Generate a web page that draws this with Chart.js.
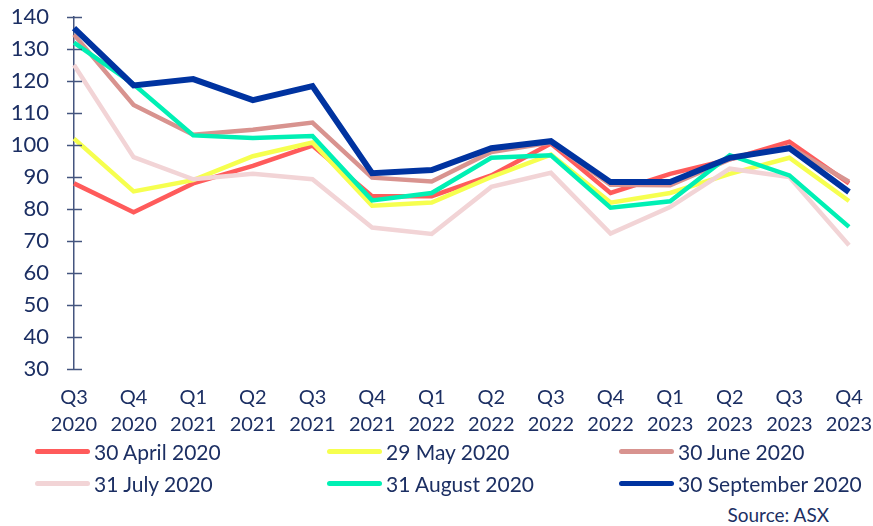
<!DOCTYPE html>
<html>
<head>
<meta charset="utf-8">
<script src="https://cdn.jsdelivr.net/npm/chart.js@4/dist/chart.umd.min.js"></script>
<style>
  html, body { margin: 0; padding: 0; background: #fff; }
  body { width: 873px; height: 526px; position: relative; overflow: hidden; font-family: Lato, "Open Sans", sans-serif; color: #1c2f63; }
  #wrap { position: absolute; left: 0; top: 0; width: 873px; height: 440px; }
  #legend { position: absolute; left: 35px; top: 437px; width: 838px; display: grid; grid-template-columns: 292px 292px 254px; row-gap: 4px; }
  .item { display: flex; align-items: center; height: 28px; font-size: 21px; white-space: nowrap; }
  .swatch { width: 55px; height: 5px; border-radius: 3px; margin-right: 4px; }
  #source { position: absolute; right: 44px; top: 503px; font-size: 19px; }
</style>
</head>
<body>
<div id="wrap"><canvas id="c"></canvas></div>
<div id="legend"></div>
<div id="source">Source: ASX</div>
<script>
// quarter labels (two lines each)
var quarters = ['Q3', 'Q4', 'Q1', 'Q2', 'Q3', 'Q4', 'Q1', 'Q2', 'Q3', 'Q4', 'Q1', 'Q2', 'Q3', 'Q4'];
var years = ['2020', '2020', '2021', '2021', '2021', '2021', '2022', '2022', '2022', '2022', '2023', '2023', '2023', '2023'];

var seriesNames = ['30 April 2020', '29 May 2020', '30 June 2020', '31 July 2020', '31 August 2020', '30 September 2020'];
var seriesColors = ['#ff5b5b', '#f6ff4f', '#d8938f', '#f2d4d6', '#00f0b4', '#0033a0'];

var april = [88, 79, 88, 93.5, 99.8, 84, 84, 90.5, 100.5, 85, 91, 95.5, 101, 88];
var may = [102, 85.5, 89, 96.5, 100.8, 81, 82, 90, 97, 82, 85, 91, 96, 82.5];
var june = [134.5, 112.5, 103.2, 104.8, 107, 89.8, 88.6, 97.8, 100.8, 87.6, 87.4, 95.5, 99.5, 88.5];
var july = [125, 96.2, 89.3, 91, 89.3, 74.2, 72.2, 86.9, 91.3, 72.3, 80.6, 92.6, 90, 68.7];
var august = [132, 119, 103, 102.2, 102.8, 82.7, 85, 96, 96.8, 80.4, 82.4, 96.8, 90.5, 74.4];
var september = [136.5, 118.6, 120.6, 114, 118.4, 91.2, 92.2, 99, 101.2, 88.4, 88.4, 96, 99, 85.3];

var seriesValues = [april, may, june, july, august, september];

var yMin = 30, yMax = 140, yStep = 10;
var textColor = '#1c2f63';
var axisColor = '#44557f';

var labels = quarters.map(function (q, i) { return [q, years[i]]; });

var datasets = seriesNames.map(function (name, i) {
    return {
        label: name,
        data: seriesValues[i],
        borderColor: seriesColors[i],
        backgroundColor: seriesColors[i],
        borderWidth: i === 5 ? 6 : 4.5,
        pointRadius: 0,
        tension: 0,
        order: seriesNames.length - i // last series drawn on top
    };
});

// y axis ticks crossing the axis line
var crossTicks = {
    id: 'crossTicks',
    afterDraw: function (chart) {
        var y = chart.scales.y;
        var x0 = chart.chartArea.left;
        var ctx = chart.ctx;
        ctx.save();
        ctx.strokeStyle = axisColor;
        ctx.lineWidth = 1.5;
        y.ticks.forEach(function (t) {
            var py = Math.round(y.getPixelForValue(t.value)) + 0.5;
            ctx.beginPath();
            ctx.moveTo(x0 - 7, py);
            ctx.lineTo(x0 + 8, py);
            ctx.stroke();
        });
        ctx.restore();
    }
};

new Chart(document.getElementById('c'), {
    type: 'line',
    data: { labels: labels, datasets: datasets },
    plugins: [crossTicks],
    options: {
        responsive: true,
        maintainAspectRatio: false,
        animation: false,
        layout: { padding: { top: 17, right: 24, left: 0, bottom: 0 } },
        plugins: { legend: { display: false }, tooltip: { enabled: false } },
        scales: {
            x: {
                offset: false,
                grid: { display: false, drawTicks: false },
                border: { display: false },
                ticks: {
                    color: textColor,
                    font: { family: 'Lato', size: 20, lineHeight: 1.35 },
                    padding: 15,
                    maxRotation: 0,
                    autoSkip: false
                },
                // fixed box so the plot area lines up with the original
                afterFit: function (s) { s.height = 71; s.paddingLeft = 0; s.paddingRight = 0; }
            },
            y: {
                min: yMin,
                max: yMax,
                grid: { display: false, drawTicks: false },
                border: { display: true, color: axisColor, width: 1.5 },
                ticks: {
                    stepSize: yStep,
                    color: textColor,
                    font: { family: 'Lato', size: 22 },
                    padding: 25
                },
                afterFit: function (s) { s.width = 74; s.paddingTop = 0; s.paddingBottom = 0; }
            }
        }
    }
});

// legend built from the same series arrays
var legend = document.getElementById('legend');
seriesNames.forEach(function (name, i) {
    var item = document.createElement('div');
    item.className = 'item';
    var sw = document.createElement('span');
    sw.className = 'swatch';
    sw.style.background = seriesColors[i];
    item.appendChild(sw);
    item.appendChild(document.createTextNode(name));
    legend.appendChild(item);
});
</script>
</body>
</html>
